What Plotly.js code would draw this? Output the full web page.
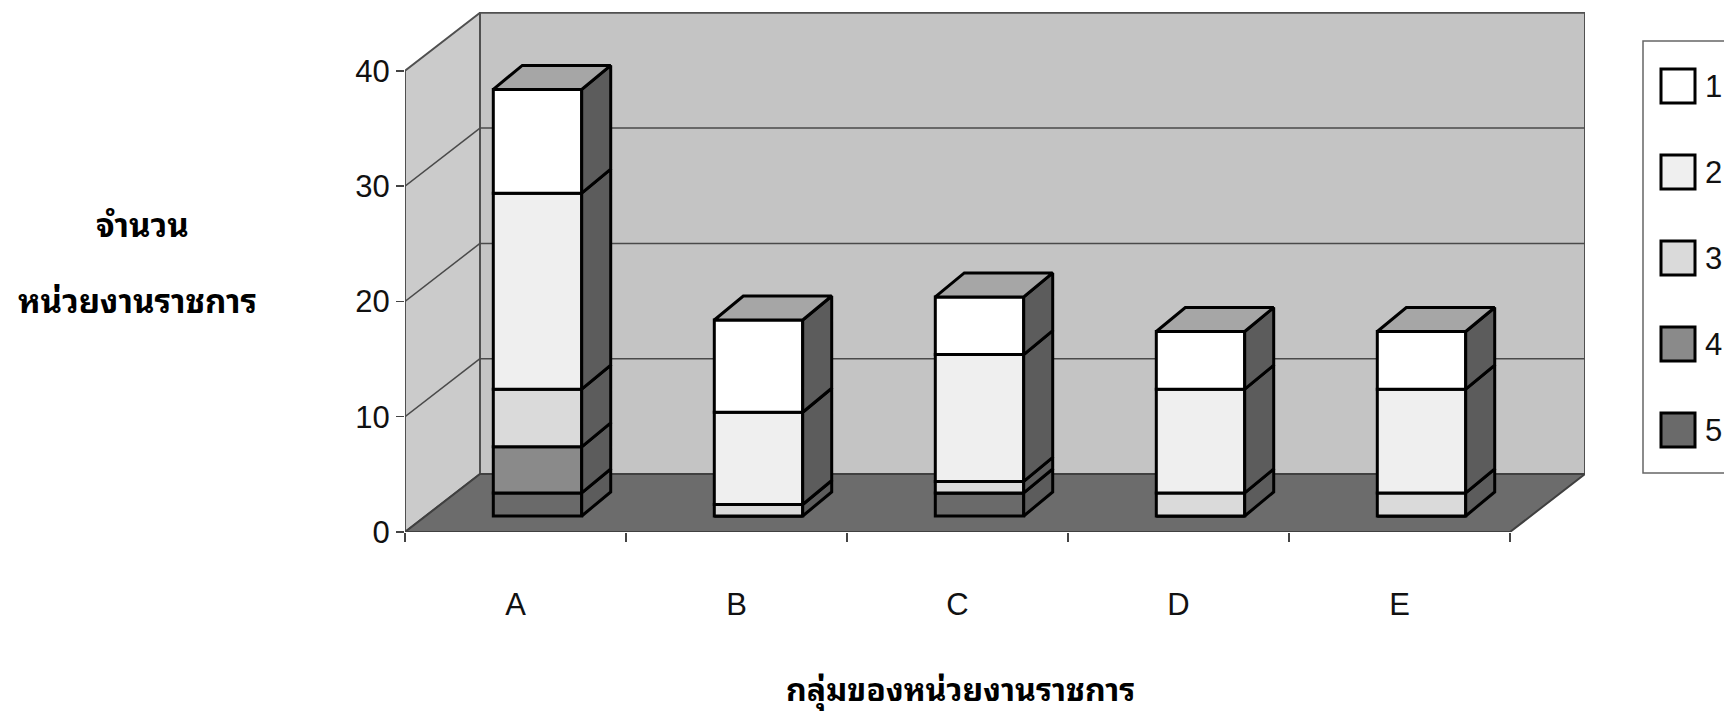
<!DOCTYPE html>
<html><head><meta charset="utf-8">
<script src="https://cdn.plot.ly/plotly-3.0.1.min.js"></script>
<style>html,body{margin:0;padding:0;background:#fff}#chart{width:1724px;height:711px}</style>
</head><body><div id="chart"></div>
<script>
// ---- data ----
const categories = ['A', 'B', 'C', 'D', 'E'];
const seriesNames = ['1', '2', '3', '4', '5'];
const s1 = [9, 8, 5, 5, 5];
const s2 = [17, 8, 11, 9, 9];
const s3 = [5, 1, 1, 2, 2];
const s4 = [4, 0, 0, 0, 0];
const s5 = [2, 0, 2, 0, 0];
const yTicks = [0, 10, 20, 30, 40];
const yTitleLines = ['จำนวน', 'หน่วยงานราชการ'];
const xTitle = 'กลุ่มของหน่วยงานราชการ';

// ---- style / geometry ----
const W = 1724, H = 711;
const L = 405, R = 1585, T = 12, B = 532;
const CAT_PX = 221, UNIT_PX = 11.53;
const xMin = -0.5, xMax = xMin + (R - L) / CAT_PX;
const yMax = (B - T) / UNIT_PX;
const FX = 22 / CAT_PX, FY = 16 / UNIT_PX;      // bar front face offset (depth)
const BDX = 29 / CAT_PX, BDY = 24 / UNIT_PX;    // bar depth
const WDX = 75 / CAT_PX, WDY = 58 / UNIT_PX;    // wall depth
const BW = 0.4;
const colors = ['#ffffff', '#efefef', '#dadada', '#8a8a8a', '#6a6a6a'];
const sideColor = '#5c5c5c', topColor = '#a6a6a6';
const tickFont = {family: "'Liberation Sans', Arial, sans-serif", size: 31, color: '#111'};
const thaiFont = {family: "'Noto Sans Thai Looped', 'Noto Sans Thai', Loma, 'Tlwg Typo', Garuda, 'DejaVu Sans', sans-serif", size: 33, color: '#000'};

const seriesVals = [s1, s2, s3, s4, s5];
const stackOrder = [4, 3, 2, 1, 0];
const xIdx = categories.map((c, i) => i);
const n = categories.length;
const xFirst = xMin, xLast = xMin + n;
const yTop = yTicks[yTicks.length - 1];

const traces = [];
let cum = categories.map(() => 0);
stackOrder.forEach(si => {
  const vals = seriesVals[si];
  const base = cum.map(c => c + FY);
  traces.push({
    type: 'bar', x: xIdx, y: vals, base: base, width: BW, offset: FX - BW / 2,
    marker: {color: colors[si], line: {color: '#000', width: 3}},
    name: seriesNames[si], showlegend: false, hoverinfo: 'skip'
  });
  const sx = [], sy = [];
  vals.forEach((v, i) => {
    if (v <= 0) return;
    const xr = i + FX + BW / 2, b = base[i], t = base[i] + v;
    sx.push(xr, xr + BDX, xr + BDX, xr, xr, null);
    sy.push(b, b + BDY, t + BDY, t, b, null);
  });
  traces.push({
    type: 'scatter', mode: 'lines', x: sx, y: sy, fill: 'toself', fillcolor: sideColor,
    line: {color: '#000', width: 3}, showlegend: false, hoverinfo: 'skip', connectgaps: false
  });
  cum = cum.map((c, i) => c + vals[i]);
});
// top faces
const tx = [], ty = [];
cum.forEach((tot, i) => {
  const xl = i + FX - BW / 2, xr = i + FX + BW / 2, t = tot + FY;
  tx.push(xl, xl + BDX, xr + BDX, xr, xl, null);
  ty.push(t, t + BDY, t + BDY, t, t, null);
});
traces.push({
  type: 'scatter', mode: 'lines', x: tx, y: ty, fill: 'toself', fillcolor: topColor,
  line: {color: '#000', width: 3}, showlegend: false, hoverinfo: 'skip', connectgaps: false
});

// walls, floor, gridlines
const shapes = [];
const edge = {color: '#505050', width: 2};
shapes.push({type: 'path', xref: 'x', yref: 'y', layer: 'below', fillcolor: '#cbcbcb', line: edge,
  path: `M${xFirst},0 L${xFirst},${yTop} L${xFirst + WDX},${yTop + WDY} L${xFirst + WDX},${WDY} Z`});
shapes.push({type: 'rect', xref: 'x', yref: 'y', layer: 'below', fillcolor: '#c4c4c4', line: edge,
  x0: xFirst + WDX, x1: xLast + WDX, y0: WDY, y1: yTop + WDY});
shapes.push({type: 'path', xref: 'x', yref: 'y', layer: 'below', fillcolor: '#6c6c6c', line: {color: '#404040', width: 2},
  path: `M${xFirst},0 L${xLast},0 L${xLast + WDX},${WDY} L${xFirst + WDX},${WDY} Z`});
yTicks.forEach(v => {
  if (v === 0 || v === yTop) return;
  shapes.push({type: 'line', xref: 'x', yref: 'y', layer: 'below', line: {color: '#4a4a4a', width: 1.5},
    x0: xFirst + WDX, x1: xLast + WDX, y0: v + WDY, y1: v + WDY});
  shapes.push({type: 'line', xref: 'x', yref: 'y', layer: 'below', line: {color: '#4a4a4a', width: 1.5},
    x0: xFirst, x1: xFirst + WDX, y0: v, y1: v + WDY});
});

// legend (manual, to match large swatches)
const px2x = p => (p - L) / (R - L);
const px2y = p => (B - p) / (B - T);
shapes.push({type: 'rect', xref: 'paper', yref: 'paper', layer: 'above', fillcolor: '#ffffff',
  line: {color: '#666', width: 1.5}, x0: px2x(1643), x1: px2x(1760), y0: px2y(473), y1: px2y(41)});
const annotations = [];
seriesNames.forEach((nm, k) => {
  const cy = 86 + k * 86;
  shapes.push({type: 'rect', xref: 'paper', yref: 'paper', layer: 'above', fillcolor: colors[k],
    line: {color: '#000', width: 3}, x0: px2x(1661), x1: px2x(1695), y0: px2y(cy + 17), y1: px2y(cy - 17)});
  annotations.push({xref: 'paper', yref: 'paper', x: px2x(1703), y: px2y(cy), text: nm, showarrow: false,
    xanchor: 'left', yanchor: 'middle', font: tickFont});
});
annotations.push({xref: 'paper', yref: 'paper', x: px2x(142), y: px2y(222), text: '<b>' + yTitleLines[0] + '</b>',
  showarrow: false, xanchor: 'center', yanchor: 'middle', font: thaiFont});
annotations.push({xref: 'paper', yref: 'paper', x: px2x(137), y: px2y(298), text: '<b>' + yTitleLines[1] + '</b>',
  showarrow: false, xanchor: 'center', yanchor: 'middle', font: thaiFont});
annotations.push({xref: 'paper', yref: 'paper', x: px2x(960), y: px2y(686), text: '<b>' + xTitle + '</b>',
  showarrow: false, xanchor: 'center', yanchor: 'middle', font: Object.assign({}, thaiFont, {size: 32})});

const boundaries = [];
for (let i = 0; i <= n; i++) boundaries.push(xMin + i);

const layout = {
  width: W, height: H,
  margin: {l: L, r: W - R, t: T, b: H - B, pad: 0},
  paper_bgcolor: '#ffffff', plot_bgcolor: 'rgba(0,0,0,0)',
  barmode: 'overlay', showlegend: false,
  xaxis: {range: [xMin, xMax], tickmode: 'array', tickvals: boundaries, ticks: 'outside', ticklen: 9,
    tickcolor: '#444', tickwidth: 1.5, showticklabels: false, showline: false, showgrid: false, zeroline: false},
  xaxis2: {range: [xMin, xMax], overlaying: 'x', anchor: 'y', side: 'bottom', tickmode: 'array',
    tickvals: xIdx, ticktext: categories, ticks: '', ticklabelstandoff: 51, tickfont: tickFont,
    showline: false, showgrid: false, zeroline: false},
  yaxis: {range: [0, yMax], tickmode: 'array', tickvals: yTicks, ticks: 'outside', ticklen: 8,
    tickcolor: '#444', tickwidth: 1.5, tickfont: tickFont, showline: false, showgrid: false, zeroline: false},
  shapes: shapes, annotations: annotations
};
// invisible anchor trace so the category axis (xaxis2) is drawn
traces.push({type: 'scatter', x: [0], y: [0], xaxis: 'x2', mode: 'markers', marker: {opacity: 0}, showlegend: false, hoverinfo: 'skip'});

Plotly.newPlot('chart', traces, layout, {displayModeBar: false, staticPlot: true});
</script>
</body></html>
